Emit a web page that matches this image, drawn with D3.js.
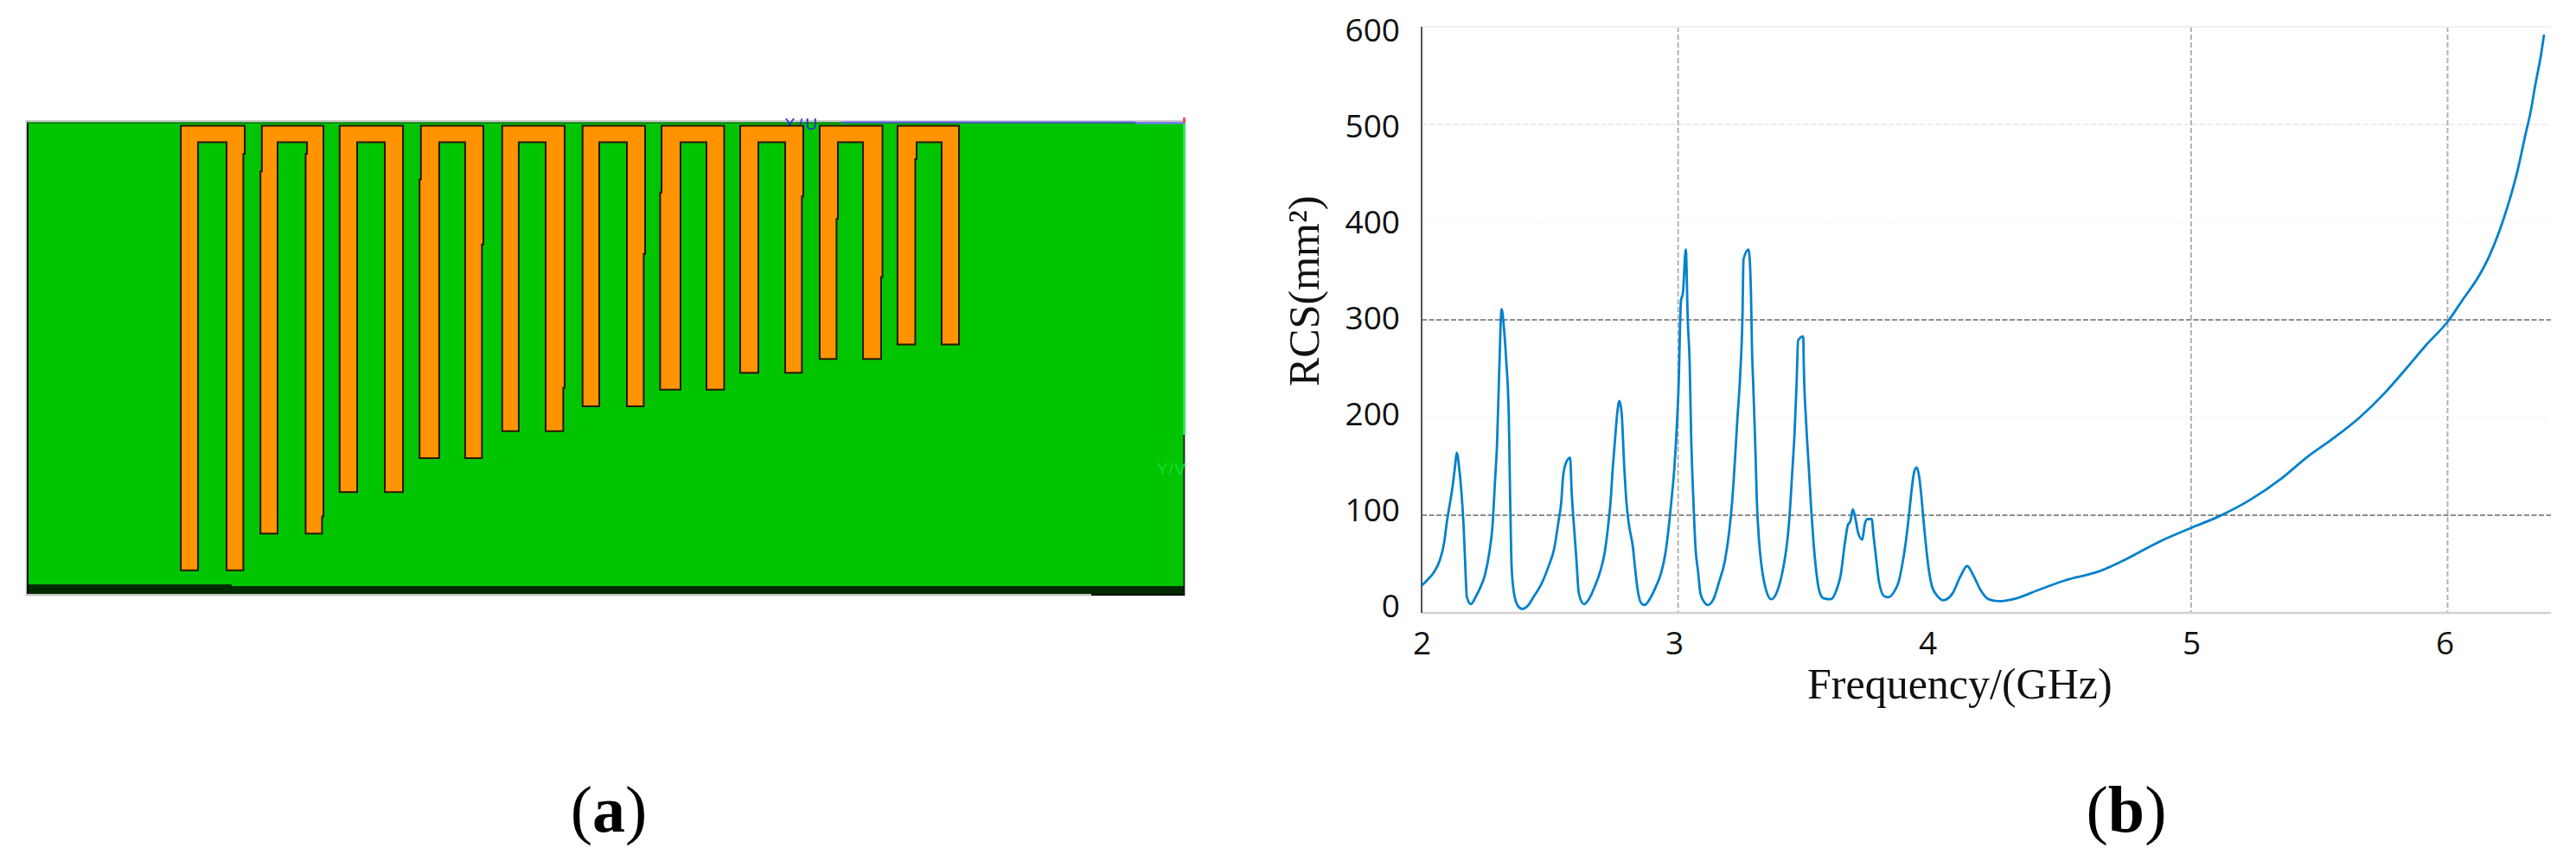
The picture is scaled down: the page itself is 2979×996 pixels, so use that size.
<!DOCTYPE html>
<html>
<head>
<meta charset="utf-8">
<title>Absorber model and RCS</title>
<script src="https://cdn.jsdelivr.net/npm/d3@7"></script>
<style>
html,body{margin:0;padding:0;background:#fff;overflow:hidden;}
svg{display:block;}
</style>
</head>
<body>
<div id="svgContainer"></div>
<script>
// (b) RCS curve
var freq = [2.000,2.020,2.049,2.071,2.088,2.099,2.111,2.120,2.130,2.137,2.147,2.156,2.164,2.171,2.176,2.192,2.212,2.229,2.246,2.263,2.277,2.286,2.294,2.302,2.312,2.321,2.330,2.340,2.345,2.351,2.361,2.376,2.393,2.413,2.438,2.466,2.494,2.517,2.534,2.545,2.551,2.562,2.579,2.585,2.596,2.604,2.613,2.633,2.652,2.675,2.698,2.714,2.728,2.737,2.745,2.754,2.763,2.771,2.780,2.790,2.799,2.808,2.824,2.833,2.841,2.856,2.869,2.889,2.912,2.934,2.951,2.966,2.974,2.985,2.994,3.002,3.011,3.019,3.030,3.038,3.045,3.051,3.059,3.068,3.078,3.087,3.102,3.115,3.138,3.160,3.183,3.200,3.211,3.222,3.231,3.242,3.251,3.255,3.275,3.284,3.288,3.293,3.301,3.307,3.315,3.324,3.335,3.347,3.363,3.386,3.406,3.420,3.429,3.437,3.445,3.454,3.462,3.468,3.488,3.490,3.499,3.510,3.519,3.528,3.538,3.550,3.567,3.595,3.617,3.634,3.651,3.662,3.672,3.681,3.691,3.702,3.718,3.728,3.738,3.755,3.762,3.772,3.783,3.804,3.820,3.843,3.860,3.875,3.888,3.900,3.911,3.920,3.930,3.939,3.948,3.957,3.966,3.976,3.990,4.012,4.034,4.070,4.100,4.127,4.150,4.180,4.210,4.250,4.320,4.400,4.505,4.646,4.747,4.869,5.000,5.110,5.232,5.354,5.455,5.556,5.657,5.758,5.838,5.919,6.000,6.060,6.120,6.162,6.202,6.243,6.273,6.303,6.323,6.343,6.364,6.376];
var rcs = [28,33,42,54,72,94,113,128,149,164,147,121,88,44,17,9,17,26,38,60,91,134,172,242,311,292,258,202,121,47,19,7,4,7,17,29,47,66,94,115,138,153,159,124,82,53,20,9,14,27,44,62,91,115,147,177,205,217,204,150,112,91,67,44,26,10,8,14,26,41,62,94,115,147,186,233,319,328,372,298,257,180,119,66,42,20,11,8,14,32,54,85,115,158,198,243,304,362,372,328,272,233,171,115,76,51,32,20,14,22,41,62,82,109,144,184,235,279,283,254,196,147,106,72,44,23,15,14,23,39,73,90,94,106,97,82,75,91,96,96,79,56,32,17,16,22,32,51,73,100,127,144,149,141,121,94,70,47,27,17,13,20,37,48,39,23,14,12,15,23,33,43,55,72,87,99,116,138,160,179,200,226,250,275,298,321,344,365,391,424,453,489,512,542,571,592];
var yTicks = [0,100,200,300,400,500,600];
var xTicks = [2,3,4,5,6];
var strongGrid = [100,300];
var faintGrid = [200,400,500];
var xGrid = [3,5,6];

// (a) slot resonators, in percent of the plate width / height
var outerLeft = [13.30,20.30,27.02,34.04,41.06,48.00,54.82,61.61,68.48,75.20];
var outerRight = [18.82,25.62,32.49,39.43,46.45,53.40,60.23,67.06,73.90,80.51];
var innerLeft = [14.79,21.66,28.53,35.62,42.49,49.44,56.46,63.18,70.05,76.85];
var innerRight = [17.25,24.20,30.92,37.86,44.81,51.83,58.70,65.50,72.22,79.01];
var fingerDepth = [95.0,87.2,78.4,71.2,65.5,60.2,56.7,53.1,50.2,47.1];
// depth at which each edge steps over a little, null = straight
var outerLeftJog = [null,10.4,null,12.1,null,null,14.9,null,null,null];
var outerRightJog = [6.7,83.6,null,25.9,56.3,27.9,null,15.7,32.8,null];
var innerLeftJog = [null,null,null,null,null,null,null,null,20.5,7.8];
var innerRightJog = [null,6.7,null,null,null,null,null,null,null,null];

var svgWidth = 2979, svgHeight = 996;
var svg = d3.select("#svgContainer").append("svg")
	.attr("width",svgWidth)
	.attr("height",svgHeight);

/* ---------- (a) ---------- */
var xm = d3.scaleLinear().domain([0,100]).range([31,1370]);
var ym = d3.scaleLinear().domain([0,100]).range([141.5,687]);
var panelA = svg.append("g");
var jog = 0.12, fingerTop = 0.73, slotTop = 4.2;

// plate
panelA.append("rect").attr("x",29.5).attr("y",139).attr("width",1342).attr("height",550.5).attr("fill","#c9c9c9");
panelA.append("rect").attr("x",xm(0)).attr("y",ym(0)).attr("width",xm(100)-xm(0)).attr("height",ym(100)-ym(0)).attr("fill","#00c500");
panelA.append("rect").attr("x",xm(0)).attr("y",678).attr("width",xm(100)-xm(0)).attr("height",9).attr("fill","#002b00");
panelA.append("rect").attr("x",xm(0)).attr("y",676).attr("width",237).attr("height",3).attr("fill","#002b00");
panelA.append("rect").attr("x",1262).attr("y",687).attr("width",108).attr("height",2).attr("fill","#111");
panelA.append("rect").attr("x",xm(0)).attr("y",ym(0)).attr("width",2).attr("height",ym(100)-ym(0)).attr("fill","#0a0a0a");
panelA.append("rect").attr("x",xm(0)).attr("y",141.5).attr("width",xm(100)-xm(0)).attr("height",1.5).attr("fill","#0a7a0a");
// top and right rims from the CAD view
panelA.append("rect").attr("x",973).attr("y",139.5).attr("width",340).attr("height",1).attr("fill","#d5d5f5");
panelA.append("rect").attr("x",973).attr("y",140.5).attr("width",340).attr("height",2).attr("fill","#5a5adf");
panelA.append("rect").attr("x",1313).attr("y",141).attr("width",56).attr("height",2.5).attr("fill","#7a7af0");
panelA.append("rect").attr("x",1368).attr("y",143).attr("width",2.5).attr("height",360).attr("fill","#14f04a");
panelA.append("rect").attr("x",1368.5).attr("y",503).attr("width",1.5).attr("height",184).attr("fill","#111");
panelA.append("rect").attr("x",1368).attr("y",136).attr("width",3).attr("height",6).attr("fill","#f25050");
panelA.append("text").attr("x",907).attr("y",150).attr("font-family","'Liberation Sans'").attr("font-size",19).attr("fill","#2a2ae0").attr("textLength",38).text("X / U");
panelA.append("text").attr("x",1338).attr("y",549).attr("font-family","'Liberation Sans'").attr("font-size",19).attr("fill","#12e03e").attr("textLength",33).text("Y / V");

// fingers
var fingerLine = d3.line().x(function(p){return xm(p[0]);}).y(function(p){return ym(p[1]);});
function edge(x,depthA,depthB,jogAt,shift){
	// vertical edge walked from depthA to depthB, shifted by a small step past jogAt
	if(jogAt===null) return [[x,depthA],[x,depthB]];
	if(depthA<depthB) return [[x,depthA],[x,jogAt],[x+shift,jogAt],[x+shift,depthB]];
	return [[x+shift,depthA],[x+shift,jogAt],[x,jogAt],[x,depthB]];
}
panelA.selectAll("path.finger")
	.data(d3.range(fingerDepth.length))
	.enter()
	.append("path")
	.attr("class","finger")
	.attr("d",function(i){
		var bottom = fingerDepth[i];
		var pts = [].concat(
			edge(outerRight[i],fingerTop,bottom,outerRightJog[i],-jog),
			edge(innerRight[i],bottom,slotTop,innerRightJog[i],-jog),
			edge(innerLeft[i],slotTop,bottom,innerLeftJog[i],-jog),
			edge(outerLeft[i],bottom,fingerTop,outerLeftJog[i],-jog)
		);
		return fingerLine(pts)+"Z";
	})
	.attr("fill","#ff9400")
	.attr("stroke","#2a1600")
	.attr("stroke-width",2);

/* ---------- (b) ---------- */
var x = d3.scaleLinear().domain([2,6]).range([1644,2830.5]);
var y = d3.scaleLinear().domain([0,600]).range([709,31]);
var xRight = 2950;
var panelB = svg.append("g");

panelB.selectAll("line.fg").data(faintGrid).enter().append("line")
	.attr("x1",x(2)).attr("x2",xRight)
	.attr("y1",function(d){return y(d);}).attr("y2",function(d){return y(d);})
	.attr("stroke",function(d){return d==500?"#eeeeee":"#f9f9f9";})
	.attr("stroke-width",2).attr("stroke-dasharray","6,3");
panelB.selectAll("line.sg").data(strongGrid).enter().append("line")
	.attr("x1",x(2)).attr("x2",xRight)
	.attr("y1",function(d){return y(d);}).attr("y2",function(d){return y(d);})
	.attr("stroke","#8c8c8c").attr("stroke-width",2.2).attr("stroke-dasharray","6,2.5");
panelB.selectAll("line.vg").data(xGrid).enter().append("line")
	.attr("x1",function(d){return x(d);}).attr("x2",function(d){return x(d);})
	.attr("y1",y(600)).attr("y2",y(0))
	.attr("stroke","#ababab").attr("stroke-width",1.8).attr("stroke-dasharray","6,3");

// frame
panelB.append("line").attr("x1",x(2)).attr("x2",xRight).attr("y1",y(600)).attr("y2",y(600)).attr("stroke","#f0f0f0").attr("stroke-width",2);
panelB.append("line").attr("x1",x(2)).attr("x2",xRight).attr("y1",y(0)).attr("y2",y(0)).attr("stroke","#d2d2d2").attr("stroke-width",2.5);
panelB.append("line").attr("x1",x(2)).attr("x2",x(2)).attr("y1",y(600)).attr("y2",y(0)).attr("stroke","#555").attr("stroke-width",2);

// curve
var curve = d3.line().x(function(d,i){return x(freq[i]);}).y(function(d){return y(d);}).curve(d3.curveMonotoneX);
panelB.append("path")
	.attr("d",curve(rcs))
	.attr("fill","none")
	.attr("stroke","#0481cd")
	.attr("stroke-width",2.8);

// tick labels sit slightly off the grid in the reference, so they get their own scales
var yLabel = d3.scaleLinear().domain([0,600]).range([701.5,35.5]);
var xLabel = d3.scaleLinear().domain([2,3,4,5,6]).range([1644,1936,2229,2534,2827]);
var yAxis = panelB.append("g").attr("transform","translate(1619,0)")
	.call(d3.axisLeft(yLabel).tickValues(yTicks).tickSize(0).tickPadding(0));
var xAxis = panelB.append("g").attr("transform","translate(0,731)")
	.call(d3.axisBottom(xLabel).tickValues(xTicks).tickFormat(d3.format("d")).tickSize(0).tickPadding(0));
yAxis.select(".domain").remove();
xAxis.select(".domain").remove();
svg.selectAll(".tick text").attr("font-family","'Open Sans'").attr("font-size",37).attr("fill","#111");

panelB.append("text")
	.attr("x",2090).attr("y",808)
	.attr("font-family","'Liberation Serif'").attr("font-size",50).attr("fill","#111")
	.text("Frequency/(GHz)");
panelB.append("text")
	.attr("transform","translate(1525,447) rotate(-90)")
	.attr("font-family","'Liberation Serif'").attr("font-size",50).attr("fill","#111")
	.text("RCS(mm²)");

/* ---------- captions ---------- */
var captions = [{label:"a",cx:704},{label:"b",cx:2459}];
captions.forEach(function(c){
	var t = svg.append("text").attr("x",c.cx).attr("y",962)
		.attr("text-anchor","middle")
		.attr("font-family","'Liberation Serif'").attr("font-size",76).attr("fill","#000");
	t.append("tspan").text("(");
	t.append("tspan").attr("font-weight","bold").text(c.label);
	t.append("tspan").text(")");
});
</script>
</body>
</html>
